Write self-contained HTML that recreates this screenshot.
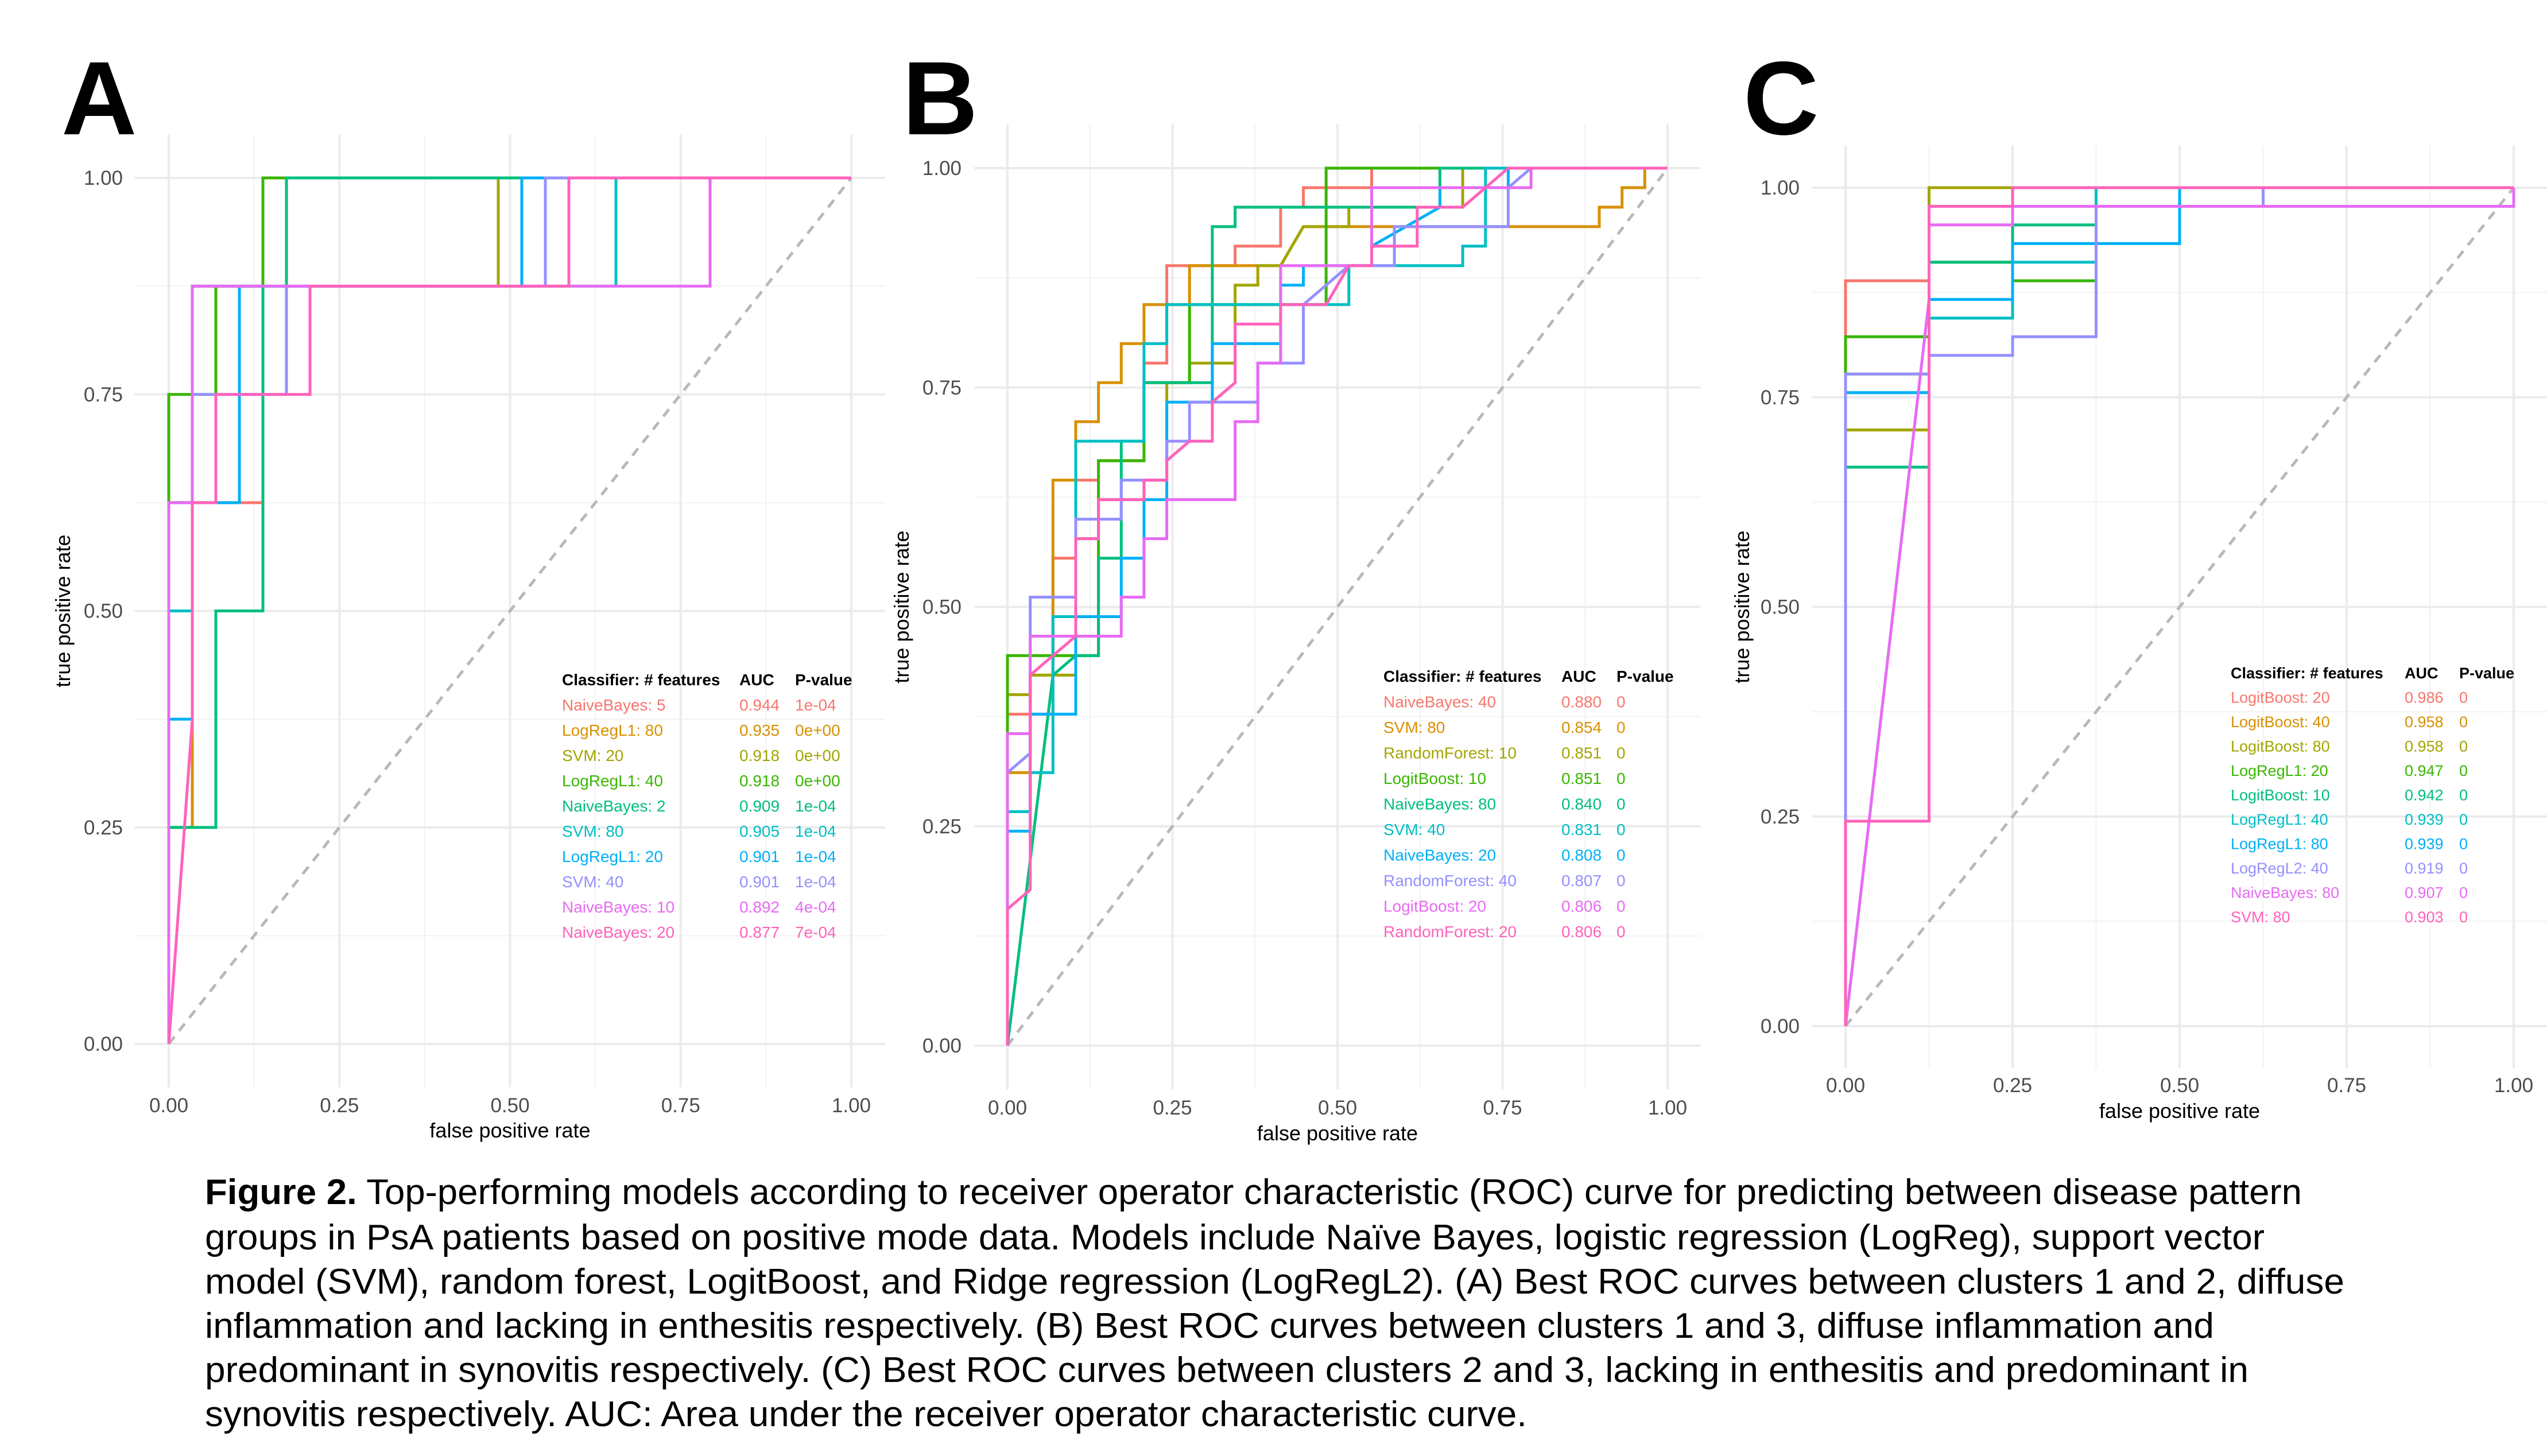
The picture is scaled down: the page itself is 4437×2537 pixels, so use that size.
<!DOCTYPE html>
<html><head><meta charset="utf-8"><style>
html,body{margin:0;padding:0;background:#fff;}
svg{display:block;}
</style></head><body>
<svg id="fig" xmlns="http://www.w3.org/2000/svg" width="4437" height="2537" viewBox="0 0 4437 2537" font-family="Liberation Sans, sans-serif">
<rect width="4437" height="2537" fill="#fff"/>
<g id="panels"></g>
<g id="caption" font-size="62" fill="#000">
<text x="357" y="2098" textLength="3653" lengthAdjust="spacingAndGlyphs"><tspan font-weight="bold">Figure 2.</tspan> Top-performing models according to receiver operator characteristic (ROC) curve for predicting between disease pattern</text>
<text x="357" y="2177" textLength="3588" lengthAdjust="spacingAndGlyphs">groups in PsA patients based on positive mode data. Models include Naïve Bayes, logistic regression (LogReg), support vector</text>
<text x="357" y="2254" textLength="3727" lengthAdjust="spacingAndGlyphs">model (SVM), random forest, LogitBoost, and Ridge regression (LogRegL2). (A) Best ROC curves between clusters 1 and 2, diffuse</text>
<text x="357" y="2331" textLength="3500" lengthAdjust="spacingAndGlyphs">inflammation and lacking in enthesitis respectively. (B) Best ROC curves between clusters 1 and 3, diffuse inflammation and</text>
<text x="357" y="2408" textLength="3560" lengthAdjust="spacingAndGlyphs">predominant in synovitis respectively. (C) Best ROC curves between clusters 2 and 3, lacking in enthesitis and predominant in</text>
<text x="357" y="2485" textLength="2303" lengthAdjust="spacingAndGlyphs">synovitis respectively. AUC: Area under the receiver operator characteristic curve.</text>
</g>
</svg>
<script>
// ---- data ----
const colors = ["#F8766D","#D89000","#A3A500","#39B600","#00BF7D","#00BFC4","#00B0F6","#9590FF","#E76BF3","#FF62BC"];
const xTicks = [0, 0.25, 0.5, 0.75, 1];
const xTickLabels = ["0.00","0.25","0.50","0.75","1.00"];
const yTicks = [0, 0.25, 0.5, 0.75, 1];
const yTickLabels = ["0.00","0.25","0.50","0.75","1.00"];

// Panel A  (fpr in 1/29 steps, tpr in 1/8 steps)
const negA = 29, posA = 8;
const namesA = ["NaiveBayes: 5","LogRegL1: 80","SVM: 20","LogRegL1: 40","NaiveBayes: 2","SVM: 80","LogRegL1: 20","SVM: 40","NaiveBayes: 10","NaiveBayes: 20"];
const aucA = ["0.944","0.935","0.918","0.918","0.909","0.905","0.901","0.901","0.892","0.877"];
const pvalA = ["1e-04","0e+00","0e+00","0e+00","1e-04","1e-04","1e-04","1e-04","4e-04","7e-04"];
const curvesA = [
 [[0,0],[0,5],[4,5],[4,8],[29,8]],
 [[0,0],[0,2],[1,2],[1,7],[4,7],[4,8],[29,8]],
 [[0,0],[0,5],[1,5],[1,7],[14,7],[14,8],[29,8]],
 [[0,0],[0,6],[2,6],[2,7],[4,7],[4,8],[29,8]],
 [[0,0],[0,2],[2,2],[2,4],[4,4],[4,7],[5,7],[5,8],[29,8]],
 [[0,0],[0,4],[1,4],[1,7],[19,7],[19,8],[29,8]],
 [[0,0],[0,3],[1,3],[1,5],[3,5],[3,7],[15,7],[15,8],[29,8]],
 [[0,0],[0,5],[1,5],[1,6],[5,6],[5,7],[16,7],[16,8],[29,8]],
 [[0,0],[0,5],[1,5],[1,7],[23,7],[23,8],[29,8]],
 [[0,0],[1,3],[1,5],[2,5],[2,6],[6,6],[6,7],[17,7],[17,8],[29,8]]
];

// Panel B  (fpr in 1/29 steps, tpr in 1/45 steps)
const negB = 29, posB = 45;
const namesB = ["NaiveBayes: 40","SVM: 80","RandomForest: 10","LogitBoost: 10","NaiveBayes: 80","SVM: 40","NaiveBayes: 20","RandomForest: 40","LogitBoost: 20","RandomForest: 20"];
const aucB = ["0.880","0.854","0.851","0.851","0.840","0.831","0.808","0.807","0.806","0.806"];
const pvalB = ["0","0","0","0","0","0","0","0","0","0"];
const curvesB = [
 [[0,0],[0,17],[2,17],[2,25],[3,25],[3,29],[4,29],[4,30],[6,30],[6,35],[7,35],[7,40],[10,40],[10,41],[12,41],[12,43],[13,43],[13,44],[16,44],[16,45],[29,45]],
 [[0,0],[0,14],[1,14],[1,19],[2,19],[2,29],[3,29],[3,32],[4,32],[4,34],[5,34],[5,36],[6,36],[6,38],[8,38],[8,40],[12,40],[13,42],[26,42],[26,43],[27,43],[27,44],[28,44],[28,45],[29,45]],
 [[0,0],[0,18],[1,18],[1,19],[3,19],[3,26],[4,26],[4,28],[6,28],[6,29],[7,29],[7,34],[8,34],[8,35],[10,35],[10,39],[11,39],[11,40],[12,40],[13,42],[15,42],[15,43],[20,43],[20,45],[29,45]],
 [[0,0],[0,20],[4,20],[4,30],[6,30],[6,34],[8,34],[8,38],[14,38],[14,45],[29,45]],
 [[0,0],[2,19],[3,20],[4,20],[4,25],[5,25],[5,31],[6,31],[6,34],[9,34],[9,42],[10,42],[10,43],[19,43],[19,45],[29,45]],
 [[0,0],[0,12],[1,12],[1,14],[2,14],[2,22],[3,22],[3,31],[6,31],[6,36],[7,36],[7,38],[15,38],[15,40],[20,40],[20,41],[21,41],[21,45],[29,45]],
 [[0,0],[0,11],[1,11],[1,17],[3,17],[3,22],[5,22],[5,25],[6,25],[6,28],[7,28],[7,33],[9,33],[9,36],[12,36],[12,39],[13,39],[13,40],[16,40],[16,41],[19,43],[19,44],[22,44],[22,45],[29,45]],
 [[0,0],[0,14],[1,15],[1,23],[3,23],[3,27],[5,27],[5,29],[7,29],[7,31],[8,31],[8,33],[11,33],[11,35],[13,35],[13,38],[14,39],[15,40],[17,40],[17,42],[22,42],[22,44],[23,45],[29,45]],
 [[0,0],[0,16],[1,16],[1,21],[5,21],[5,23],[6,23],[6,26],[7,26],[7,28],[10,28],[10,32],[11,32],[11,35],[12,35],[12,40],[16,40],[16,44],[23,44],[23,45],[29,45]],
 [[0,0],[0,7],[1,8],[1,19],[2,20],[3,21],[3,26],[4,26],[4,28],[6,28],[6,29],[7,29],[7,30],[8,31],[9,31],[9,33],[10,34],[10,37],[12,37],[12,38],[14,38],[15,40],[16,40],[16,41],[18,41],[18,43],[20,43],[21,44],[22,45],[29,45]]
];

// Panel C  (fpr in 1/8 steps, tpr in 1/45 steps)
const negC = 8, posC = 45;
const namesC = ["LogitBoost: 20","LogitBoost: 40","LogitBoost: 80","LogRegL1: 20","LogitBoost: 10","LogRegL1: 40","LogRegL1: 80","LogRegL2: 40","NaiveBayes: 80","SVM: 80"];
const aucC = ["0.986","0.958","0.958","0.947","0.942","0.939","0.939","0.919","0.907","0.903"];
const pvalC = ["0","0","0","0","0","0","0","0","0","0"];
const curvesC = [
 [[0,0],[0,40],[1,40],[1,45],[8,45]],
 [[0,0],[0,35],[1,35],[1,45],[8,45]],
 [[0,0],[0,32],[1,32],[1,45],[8,45]],
 [[0,0],[0,37],[1,37],[1,41],[2,41],[2,40],[3,40],[3,45],[8,45]],
 [[0,0],[0,30],[1,30],[1,41],[2,41],[2,43],[3,43],[3,45],[8,45]],
 [[0,0],[0,34],[1,34],[1,38],[2,38],[2,41],[3,41],[3,45],[8,45]],
 [[0,0],[0,34],[1,34],[1,39],[2,39],[2,42],[4,42],[4,45],[8,45]],
 [[0,0],[0,35],[1,35],[1,36],[2,36],[2,37],[3,37],[3,44],[5,44],[5,45],[8,45]],
 [[0,0],[1,39],[1,43],[2,43],[2,44],[8,44],[8,45]],
 [[0,0],[0,11],[1,11],[1,44],[2,44],[2,45],[8,45]]
];

// ---- drawing ----
const NS = "http://www.w3.org/2000/svg";
const root = document.getElementById("panels");
function mk(tag, attrs, parent) {
  const e = document.createElementNS(NS, tag);
  for (const k in attrs) e.setAttribute(k, attrs[k]);
  parent.appendChild(e);
  return e;
}
function drawPanel(cfg) {
  const g = mk("g", {}, root);
  
  
  const sx = v => cfg.x0 + v * (cfg.x1 - cfg.x0);
  const sy = v => cfg.y0 - v * (cfg.y0 - cfg.y1);
  const L = sx(-0.05), R = sx(1.05), T = sy(1.05), B = sy(-0.05);
  for (let v = 0.125; v < 1; v += 0.25) {
    const a = mk("line", {x1: sx(v), x2: sx(v), y1: T, y2: B, stroke: "#f2f2f2", "stroke-width": 2}, g);
    
    
    const b = mk("line", {x1: L, x2: R, y1: sy(v), y2: sy(v), stroke: "#f2f2f2", "stroke-width": 2}, g);
    
    
  }
  xTicks.forEach((v, i) => {
    const a = mk("line", {x1: sx(v), x2: sx(v), y1: T, y2: B, stroke: "#ebebeb", "stroke-width": 4}, g);
    
    
    const t = mk("text", {x: sx(v), y: cfg.xTickY, "font-size": 35, fill: "#4d4d4d", "text-anchor": "middle"}, g);
    t.textContent = xTickLabels[i];
    
    
  });
  yTicks.forEach((v, i) => {
    const a = mk("line", {x1: L, x2: R, y1: sy(v), y2: sy(v), stroke: "#ebebeb", "stroke-width": 4}, g);
    
    
    const t = mk("text", {x: cfg.x0 - 80, y: sy(v) + 12, "font-size": 35, fill: "#4d4d4d", "text-anchor": "end"}, g);
    t.textContent = yTickLabels[i];
    
    
  });
  const d = mk("line", {x1: sx(0), y1: sy(0), x2: sx(1), y2: sy(1), stroke: "#b8b8b8", "stroke-width": 5, "stroke-dasharray": "16 13"}, g);
  
  
  cfg.curves.forEach((pts, i) => {
    const p = pts.map((q, k) => (k ? "L" : "M") + sx(q[0] / cfg.neg).toFixed(1) + " " + sy(q[1] / cfg.pos).toFixed(1)).join(" ");
    const path = mk("path", {d: p, fill: "none", stroke: colors[i], "stroke-width": 5, "stroke-linejoin": "miter"}, g);
    
    
  });
  const xt = mk("text", {x: (cfg.x0 + cfg.x1) / 2, y: cfg.xTitleY, "font-size": 36, fill: "#000", "text-anchor": "middle"}, g);
  xt.textContent = "false positive rate";
  
  
  const ym = (cfg.y0 + cfg.y1) / 2;
  const yt = mk("text", {x: cfg.yTitleX, y: ym, "font-size": 36, fill: "#000", "text-anchor": "middle", transform: "rotate(-90 " + cfg.yTitleX + " " + ym + ")"}, g);
  yt.textContent = "true positive rate";
  
  
  const pl = mk("text", {x: cfg.letterX, y: 234, "font-size": 182, "font-weight": "bold", fill: "#000"}, g);
  pl.textContent = cfg.id;
  
  
  const lg = mk("g", {"font-size": cfg.legFont}, g);
  
  
  const heads = ["Classifier: # features", "AUC", "P-value"];
  const cols = [cfg.legX, cfg.aucX, cfg.pX];
  heads.forEach((h, k) => {
    const t = mk("text", {x: cols[k], y: cfg.legY, "font-weight": "bold", fill: "#000"}, lg);
    t.textContent = h;
    
    
  });
  cfg.names.forEach((n, i) => {
    const y = cfg.legY + (i + 1) * cfg.legDy;
    [n, cfg.auc[i], cfg.pval[i]].forEach((s, k) => {
      const t = mk("text", {x: cols[k], y: y, fill: colors[i]}, lg);
      t.textContent = s;
      
      
    });
  });
}
drawPanel({id: "A", x0: 294, x1: 1483, y0: 1819, y1: 310, neg: negA, pos: posA, curves: curvesA, names: namesA, auc: aucA, pval: pvalA,
  xTickY: 1938, xTitleY: 1982, yTitleX: 122, letterX: 107, legX: 979, aucX: 1288, pX: 1385, legY: 1194, legDy: 44, legFont: 28});
drawPanel({id: "B", x0: 1755, x1: 2905, y0: 1822, y1: 293, neg: negB, pos: posB, curves: curvesB, names: namesB, auc: aucB, pval: pvalB,
  xTickY: 1942, xTitleY: 1987, yTitleX: 1583, letterX: 1572, legX: 2410, aucX: 2720, pX: 2816, legY: 1188, legDy: 44.5, legFont: 28});
drawPanel({id: "C", x0: 3215, x1: 4379, y0: 1788, y1: 327, neg: negC, pos: posC, curves: curvesC, names: namesC, auc: aucC, pval: pvalC,
  xTickY: 1903, xTitleY: 1948, yTitleX: 3047, letterX: 3037, legX: 3886, aucX: 4189, pX: 4284, legY: 1182, legDy: 42.5, legFont: 27});
</script>
</body></html>
